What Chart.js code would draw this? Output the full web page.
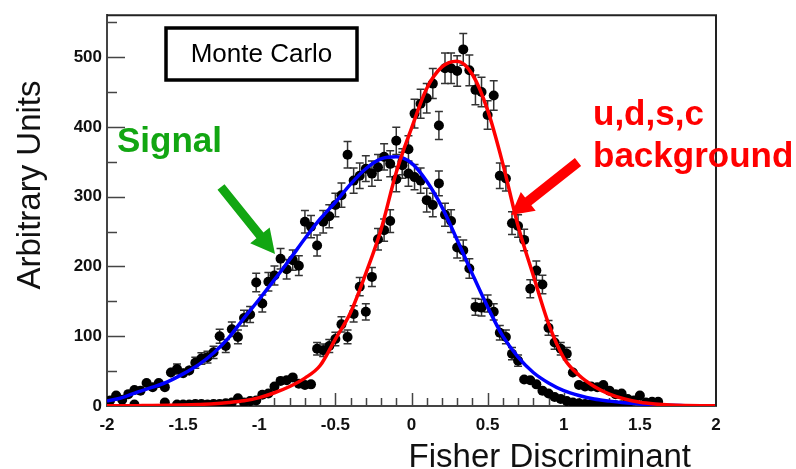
<!DOCTYPE html>
<html><head><meta charset="utf-8">
<script src="https://cdn.jsdelivr.net/npm/chart.js@4.4.1/dist/chart.umd.min.js"></script>
<style>html,body{margin:0;padding:0;background:#fff;}canvas{display:block;}</style>
</head><body>
<canvas id="c" width="796" height="469"></canvas>
<script>
// ---- data ----
const binX = [
 -1.98,-1.94,-1.90,-1.86,-1.82,-1.78,-1.74,-1.70,-1.66,-1.62,
 -1.58,-1.54,-1.50,-1.46,-1.42,-1.38,-1.34,-1.30,-1.26,-1.22,
 -1.18,-1.14,-1.10,-1.06,-1.02,-0.98,-0.94,-0.90,-0.86,-0.82,
 -0.78,-0.74,-0.70,-0.66,-0.62,-0.58,-0.54,-0.50,-0.46,-0.42,
 -0.38,-0.34,-0.30,-0.26,-0.22,-0.18,-0.14,-0.10,-0.06,-0.02,
  0.02, 0.06, 0.10, 0.14, 0.18, 0.22, 0.26, 0.30, 0.34, 0.38,
  0.42, 0.46, 0.50, 0.54, 0.58, 0.62, 0.66, 0.70, 0.74, 0.78,
  0.82, 0.86, 0.90, 0.94, 0.98, 1.02, 1.06, 1.10, 1.14, 1.18,
  1.22, 1.26, 1.30, 1.34, 1.38, 1.42, 1.46, 1.50, 1.54, 1.58, 1.62];
const signalCounts = [
  8, 15, 9, 17, 23, 22, 33, 27, 33, 27,
  48, 53, 47, 51, 62, 68, 70, 77, 100, 86,
  110, 99, 126, 131, 177, 147, 178, 187, 211, 196,
  209, 201, 264, 257, 230, 264, 272, 288, 302, 360,
  323, 330, 340, 333, 342, 357, 347, 380, 345, 333,
  328, 323, 295, 288, 319, 274, 265, 227, 223, 197,
  142, 141, 147, 135, 105, 99, 75, 65, 38, 37,
  31, 22, 18, 13, 10, 7, 5, 4, 3, 3,
  2, 2, 1, 1, 1, 1, null, null, null, null, null];
const backgroundCounts = [
  null, null, null, null, 2, null, null, null, null, 5,
  null, 2, 2, 2, 3, 3, 2, 3, 3, 4,
  5, 11, 5, 7, 8, 16, 18, 28, 36, 37,
  41, 32, 30, 31, 82, 80, 86, 96, 117, 99,
  132, 171, 135, 185, 239, 252, 265, 325, 350, 368,
  419, 433, 441, 462, 402, 484, 484, 480, 511, 481,
  453, 450, 417, 445, 330, 326, 262, 258, 238, 168,
  194, 174, 112, 91, 82, 75, 48, 30, 28, 28,
  27, 30, 22, 17, 18, 10, 8, 15, 5, 6, 6];
const fitX = [
 -2.0,-1.9,-1.8,-1.7,-1.6,-1.5,-1.4,-1.3,-1.2,-1.1,
 -1.0,-0.9,-0.8,-0.7,-0.6,-0.5,-0.4,-0.3,-0.2,-0.1,
  0.0, 0.1, 0.2, 0.3, 0.4, 0.5, 0.6, 0.7, 0.8, 0.9,
  1.0, 1.1, 1.2, 1.3, 1.4, 1.5, 1.6, 1.7, 1.8, 1.9, 2.0];
const signalFit = [
  7, 12, 20, 27, 35, 46, 59, 76, 98, 126,
  153, 181, 210, 240, 268, 292, 318, 340, 354, 357,
  348, 322, 285, 238, 189, 142, 100, 70, 48, 33,
  22, 15, 10, 7, 4.5, 3, 2, 1, 0.5, null, null];
const backgroundFit = [
  0.2, 0.3, 0.5, 0.7, 1, 1.5, 2.2, 3.2, 5, 7.5,
  12, 19, 28, 40, 58, 96, 134, 190, 253, 335,
  398, 455, 486, 494, 475, 424, 347, 258, 187, 118,
  69, 44, 28, 17, 10, 5.5, 3, 1.5, 0.8, 0.4, 0.2];
const xTickValues = [-2, -1.5, -1, -0.5, 0, 0.5, 1, 1.5, 2];
const yTickValues = [0, 100, 200, 300, 400, 500];

// ---- helpers ----
const FONT = '"Liberation Sans", Arial, Helvetica, sans-serif';
const pts = (xs, ys) => xs.map((x, i) => ({x, y: ys[i]})).filter(p => p.y !== null);
const line = (xs, ys) => xs.map((x, i) => ({x, y: ys[i]}));

function arrow(ctx, x0, y0, x1, y1, shaftW, headL, headW, color) {
  const dx = x1 - x0, dy = y1 - y0, len = Math.hypot(dx, dy);
  const ux = dx / len, uy = dy / len, nx = -uy, ny = ux;
  const bx = x1 - ux * headL, by = y1 - uy * headL;
  ctx.save();
  ctx.fillStyle = color;
  ctx.beginPath();
  ctx.moveTo(x0 + nx * shaftW / 2, y0 + ny * shaftW / 2);
  ctx.lineTo(bx + nx * shaftW / 2, by + ny * shaftW / 2);
  ctx.lineTo(bx + nx * headW / 2, by + ny * headW / 2);
  ctx.lineTo(x1, y1);
  ctx.lineTo(bx - nx * headW / 2, by - ny * headW / 2);
  ctx.lineTo(bx - nx * shaftW / 2, by - ny * shaftW / 2);
  ctx.lineTo(x0 - nx * shaftW / 2, y0 - ny * shaftW / 2);
  ctx.closePath();
  ctx.fill();
  ctx.restore();
}

const rootStyle = {
  id: 'rootStyle',
  beforeDatasetsDraw(chart) {
    const {ctx, chartArea: a, scales: {x, y}} = chart;
    ctx.save();
    // inward ticks
    ctx.strokeStyle = '#444';
    ctx.lineWidth = 1.5;
    ctx.beginPath();
    for (let i = -9; i <= 15; i++) {
      const px = Math.round(x.getPixelForValue(i / 10)) + 0.5;
      const len = (i % 5 === 0) ? 13 : 8;
      ctx.moveTo(px, a.bottom); ctx.lineTo(px, a.bottom - len);
    }
    for (let i = 1; i <= 11; i++) {
      const py = Math.round(y.getPixelForValue(i * 50)) + 0.5;
      const len = (i % 2 === 0) ? 18 : 10;
      ctx.moveTo(a.left, py); ctx.lineTo(a.left + len, py);
    }
    ctx.stroke();
    // error bars
    ctx.beginPath();
    ctx.rect(a.left, a.top, a.right - a.left, a.bottom - a.top);
    ctx.clip();
    ctx.strokeStyle = '#333';
    ctx.lineWidth = 1.5;
    chart.data.datasets.forEach((ds, di) => {
      if (!ds.errorBars) return;
      const meta = chart.getDatasetMeta(di);
      ds.data.forEach((d, i) => {
        const el = meta.data[i];
        if (!el) return;
        const e = Math.sqrt(d.y);
        const yt = y.getPixelForValue(d.y + e);
        const yb = y.getPixelForValue(Math.max(0, d.y - e));
        const px = el.x;
        ctx.beginPath();
        ctx.moveTo(px, yt); ctx.lineTo(px, yb);
        if (el.y - yt > 5) {
          ctx.moveTo(px - 4, yt); ctx.lineTo(px + 4, yt);
          ctx.moveTo(px - 4, yb); ctx.lineTo(px + 4, yb);
        }
        ctx.stroke();
      });
    });
    ctx.restore();
  },
  afterDraw(chart) {
    const {ctx, chartArea: a} = chart;
    ctx.save();
    // frame top & right
    ctx.strokeStyle = '#222';
    ctx.lineWidth = 2;
    ctx.beginPath();
    ctx.moveTo(a.left, a.top); ctx.lineTo(a.right, a.top); ctx.lineTo(a.right, a.bottom);
    ctx.stroke();
    // axis titles
    ctx.fillStyle = '#111';
    ctx.font = '33px ' + FONT;
    ctx.textAlign = 'right';
    ctx.textBaseline = 'alphabetic';
    ctx.fillText('Fisher Discriminant', 691, 467);
    ctx.save();
    ctx.translate(40, 185);
    ctx.rotate(-Math.PI / 2);
    ctx.textAlign = 'center';
    ctx.fillText('Arbitrary Units', 0, 0);
    ctx.restore();
    // Monte Carlo box
    ctx.fillStyle = '#fff';
    ctx.fillRect(166, 28, 191, 52);
    ctx.strokeStyle = '#000';
    ctx.lineWidth = 3.5;
    ctx.strokeRect(166, 28, 191, 52);
    ctx.fillStyle = '#000';
    ctx.font = '26px ' + FONT;
    ctx.textAlign = 'center';
    ctx.textBaseline = 'middle';
    ctx.fillText('Monte Carlo', 261.5, 55);
    // Signal label
    ctx.textAlign = 'left';
    ctx.textBaseline = 'alphabetic';
    ctx.font = 'bold 35px ' + FONT;
    ctx.fillStyle = '#12a612';
    ctx.fillText('Signal', 117, 152);
    arrow(ctx, 221, 187, 275, 254, 9, 24, 25, '#12a612');
    // background label
    ctx.fillStyle = '#ff0000';
    ctx.fillText('u,d,s,c', 593, 125);
    ctx.fillText('background', 593, 167);
    arrow(ctx, 578, 162, 511, 215, 10, 22, 24, '#ff0000');
    ctx.restore();
  }
};

new Chart(document.getElementById('c'), {
  type: 'scatter',
  data: {
    datasets: [
      {label: 'u,d,s,c fit', type: 'line', data: line(fitX, backgroundFit), borderColor: '#ff0000',
       borderWidth: 3.5, pointRadius: 0, cubicInterpolationMode: 'monotone', fill: false, order: 0},
      {label: 'Signal fit', type: 'line', data: line(fitX, signalFit), borderColor: '#0000ff',
       borderWidth: 3.5, pointRadius: 0, cubicInterpolationMode: 'monotone', fill: false, spanGaps: false, order: 1},
      {label: 'Signal MC', data: pts(binX, signalCounts), backgroundColor: '#000', borderWidth: 0,
       pointRadius: 5, errorBars: true, order: 2},
      {label: 'u,d,s,c MC', data: pts(binX, backgroundCounts), backgroundColor: '#000', borderWidth: 0,
       pointRadius: 5, errorBars: true, order: 3}
    ]
  },
  options: {
    responsive: false,
    animation: false,
    devicePixelRatio: 1,
    layout: {padding: {top: 9, right: 80, bottom: 0, left: 0}},
    plugins: {legend: {display: false}, tooltip: {enabled: false}},
    scales: {
      x: {
        type: 'linear', min: -2, max: 2,
        afterBuildTicks: s => { s.ticks = xTickValues.map(v => ({value: v})); },
        afterFit: s => { s.height = 63; },
        grid: {display: false, drawTicks: false},
        border: {display: true, color: '#444', width: 2},
        ticks: {padding: 9, color: '#111', font: {family: FONT, size: 17, weight: 'bold'},
                maxRotation: 0, autoSkip: false, callback: v => String(v)}
      },
      y: {
        type: 'linear', min: 0, max: 560,
        afterBuildTicks: s => { s.ticks = yTickValues.map(v => ({value: v})); },
        afterFit: s => { s.width = 107; },
        grid: {display: false, drawTicks: false},
        border: {display: true, color: '#444', width: 2},
        ticks: {padding: 5, color: '#111', font: {family: FONT, size: 17, weight: 'bold'},
                autoSkip: false, callback: v => String(v)}
      }
    }
  },
  plugins: [rootStyle]
});
</script>
</body></html>
